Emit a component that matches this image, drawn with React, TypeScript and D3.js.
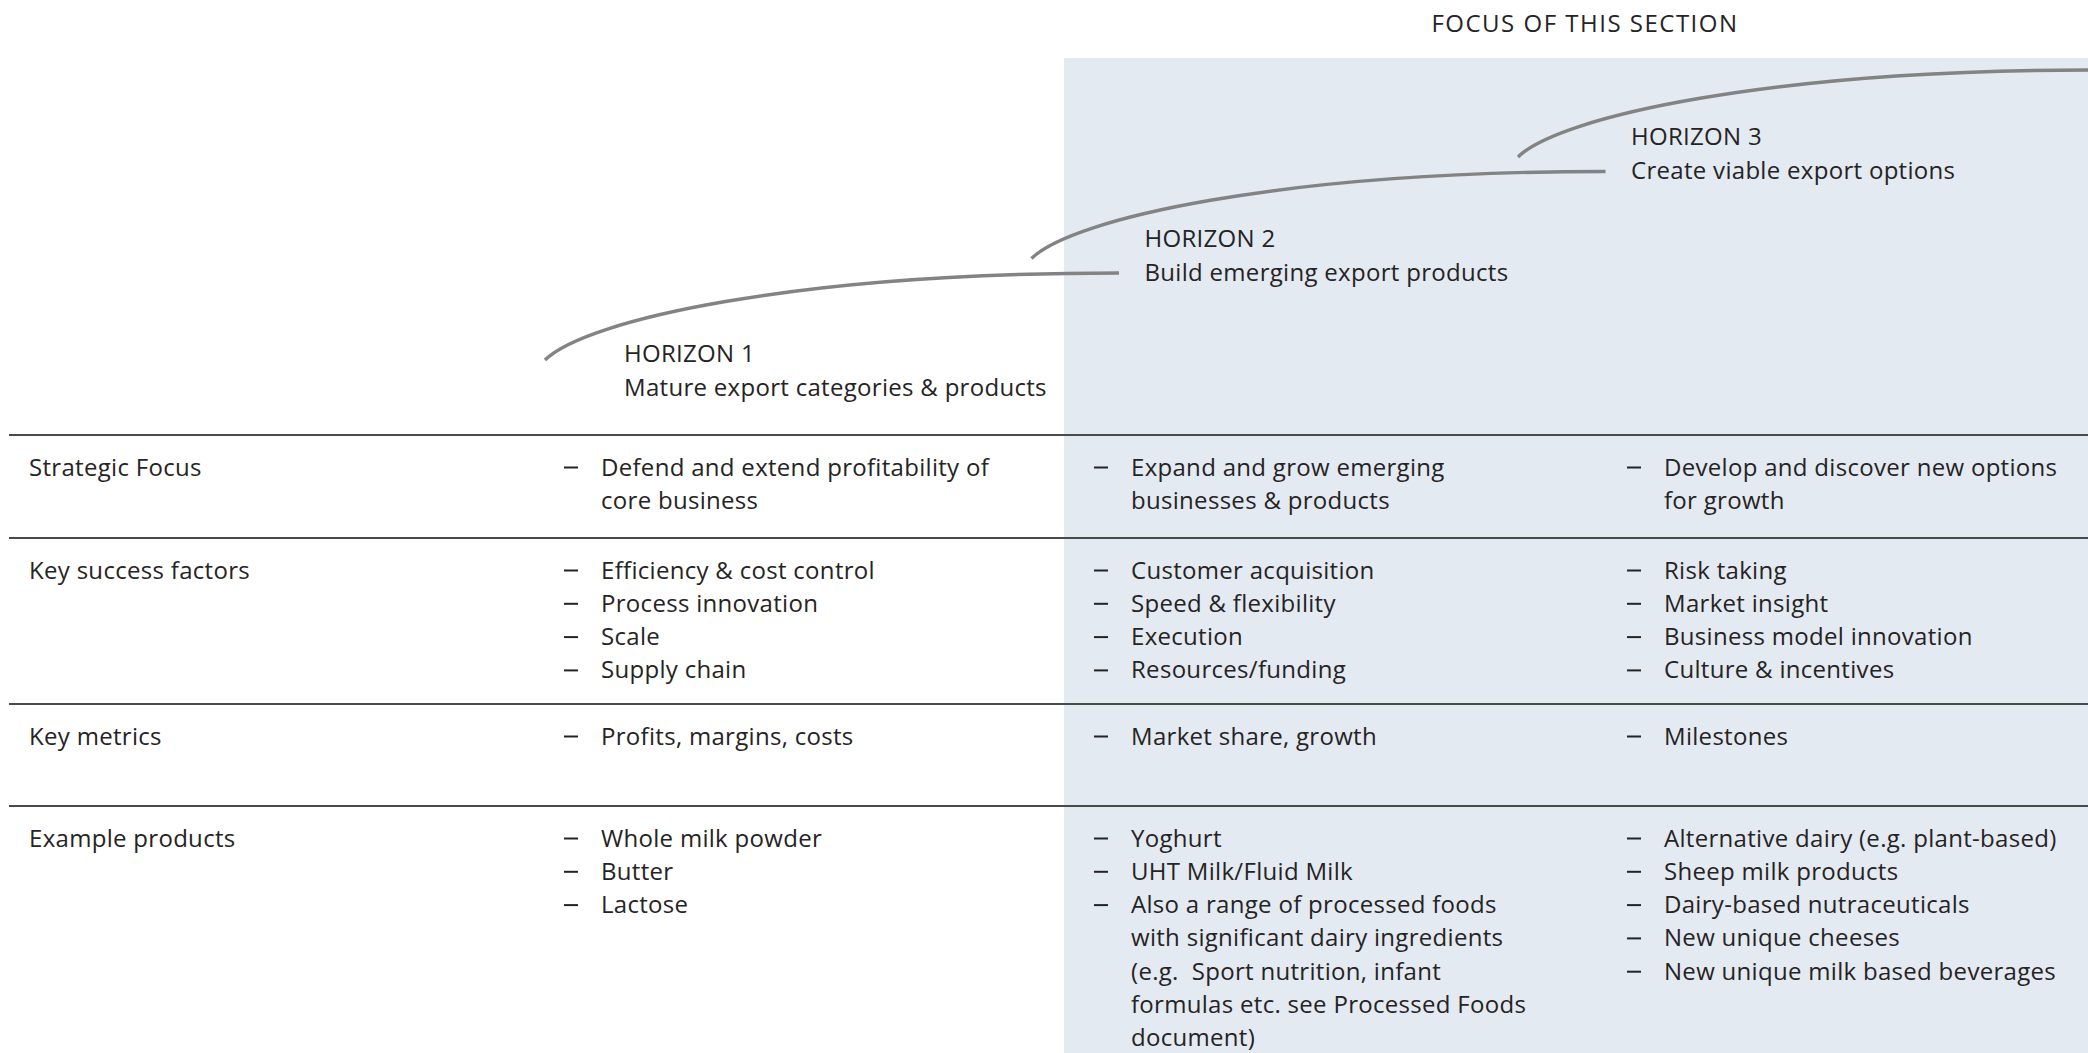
import React, { useEffect, useRef } from 'react'
import * as d3 from 'd3'

const title = "FOCUS OF THIS SECTION"
const horizonNames = ["HORIZON 1", "HORIZON 2", "HORIZON 3"]
const horizonGoals = [
    "Mature export categories & products",
    "Build emerging export products",
    "Create viable export options",
]
const rowLabels = ["Strategic Focus", "Key success factors", "Key metrics", "Example products"]

// one entry per horizon column, each item may wrap onto several lines
const strategicFocus = [
    [["Defend and extend profitability of", "core business"]],
    [["Expand and grow emerging", "businesses & products"]],
    [["Develop and discover new options", "for growth"]],
]
const keySuccessFactors = [
    [["Efficiency & cost control"], ["Process innovation"], ["Scale"], ["Supply chain"]],
    [["Customer acquisition"], ["Speed & flexibility"], ["Execution"], ["Resources/funding"]],
    [["Risk taking"], ["Market insight"], ["Business model innovation"], ["Culture & incentives"]],
]
const keyMetrics = [
    [["Profits, margins, costs"]],
    [["Market share, growth"]],
    [["Milestones"]],
]
const exampleProducts = [
    [["Whole milk powder"], ["Butter"], ["Lactose"]],
    [
        ["Yoghurt"],
        ["UHT Milk/Fluid Milk"],
        [
            "Also a range of processed foods",
            "with significant dairy ingredients",
            "(e.g.  Sport nutrition, infant",
            "formulas etc. see Processed Foods",
            "document)",
        ],
    ],
    [
        ["Alternative dairy (e.g. plant-based)"],
        ["Sheep milk products"],
        ["Dairy-based nutraceuticals"],
        ["New unique cheeses"],
        ["New unique milk based beverages"],
    ],
]
const rows = [strategicFocus, keySuccessFactors, keyMetrics, exampleProducts]

const W = 2088
const H = 1053
const FONT = "'Open Sans', Lato, sans-serif"
const FS = 24
const LS = 0.3
const TEXT = "#262324"

const App = () => {
    const svgRef = useRef<SVGSVGElement>(null)

    useEffect(() => {
        const svg: any = d3.select(svgRef.current)
        svg.selectAll("*").remove()
        svg.attr("viewBox", [0, 0, W, H])

        // column positions (dash x) and row rule positions
        const col = d3.scaleOrdinal<number, number>().domain([0, 1, 2]).range([564, 1094, 1627])
        const ruleY = d3.scaleOrdinal<string, number>().domain(rowLabels).range([435, 538, 704, 806])
        const lineH = 33.3
        const firstBase = 40.5

        const label = (sel: any) => sel
            .attr("font-family", FONT).attr("font-size", FS)
            .attr("letter-spacing", LS)
            .attr("fill", TEXT)

        // focus panel
        svg.append("rect")
            .attr("x", 1064).attr("y", 58)
            .attr("width", W - 1064).attr("height", H - 58)
            .attr("fill", "#e4eaf1")

        svg.append("text")
            .attr("x", 1585).attr("y", 31.7)
            .attr("text-anchor", "middle")
            .attr("font-family", FONT).attr("font-size", FS)
            .attr("letter-spacing", 1.5)
            .attr("fill", TEXT)
            .text(title)

        // horizon curves
        const origin = (i: number) => ({ x: 545 + 486.5 * i, y: 360 - 101.5 * i })
        const g = svg.append("g")
        horizonNames.forEach((name, i) => {
            const o = origin(i)
            const p = d3.path()
            p.moveTo(o.x, o.y)
            p.bezierCurveTo(o.x + 40, o.y - 40, o.x + 250, o.y - 87, o.x + 574, o.y - 87)
            g.append("path")
                .attr("d", p.toString())
                .attr("fill", "none")
                .attr("stroke", "#838383")
                .attr("stroke-width", 3.4)

            const lx = i === 0 ? o.x + 79 : o.x + 113
            const ly = i === 0 ? o.y + 2 : o.y - 12
            const t = g.append("text").call(label)
            t.append("tspan").attr("x", lx).attr("y", ly).text(name)
            t.append("tspan").attr("x", lx).attr("y", ly + 34).text(horizonGoals[i])
        })

        // table rules
        svg.selectAll(".rule")
            .data(rowLabels)
            .join("line")
            .attr("class", "rule")
            .attr("x1", 9).attr("x2", W)
            .attr("y1", (d: string) => ruleY(d))
            .attr("y2", (d: string) => ruleY(d))
            .attr("stroke", "#4a4a4a")
            .attr("stroke-width", 1.8)

        rowLabels.forEach((name, r) => {
            const top = ruleY(name) + firstBase
            svg.append("text")
                .attr("x", 29).attr("y", top)
                .call(label)
                .text(name)

            rows[r].forEach((items, c) => {
                let line = 0
                items.forEach((item) => {
                    const dy = top + line * lineH - 8
                    svg.append("line")
                        .attr("x1", col(c)).attr("x2", col(c) + 14)
                        .attr("y1", dy).attr("y2", dy)
                        .attr("stroke", TEXT)
                        .attr("stroke-width", 2)
                    item.forEach((txt) => {
                        svg.append("text")
                            .attr("x", col(c) + 37).attr("y", top + line * lineH)
                            .call(label)
                            .style("white-space", "pre")
                            .text(txt)
                        line++
                    })
                })
            })
        })
    }, [])

    return (
        <svg
            ref={svgRef}
            width={W}
            height={H}
            style={{ position: "absolute", left: 0, top: 0, background: "#fff" }}
        />
    )
}

export default App
